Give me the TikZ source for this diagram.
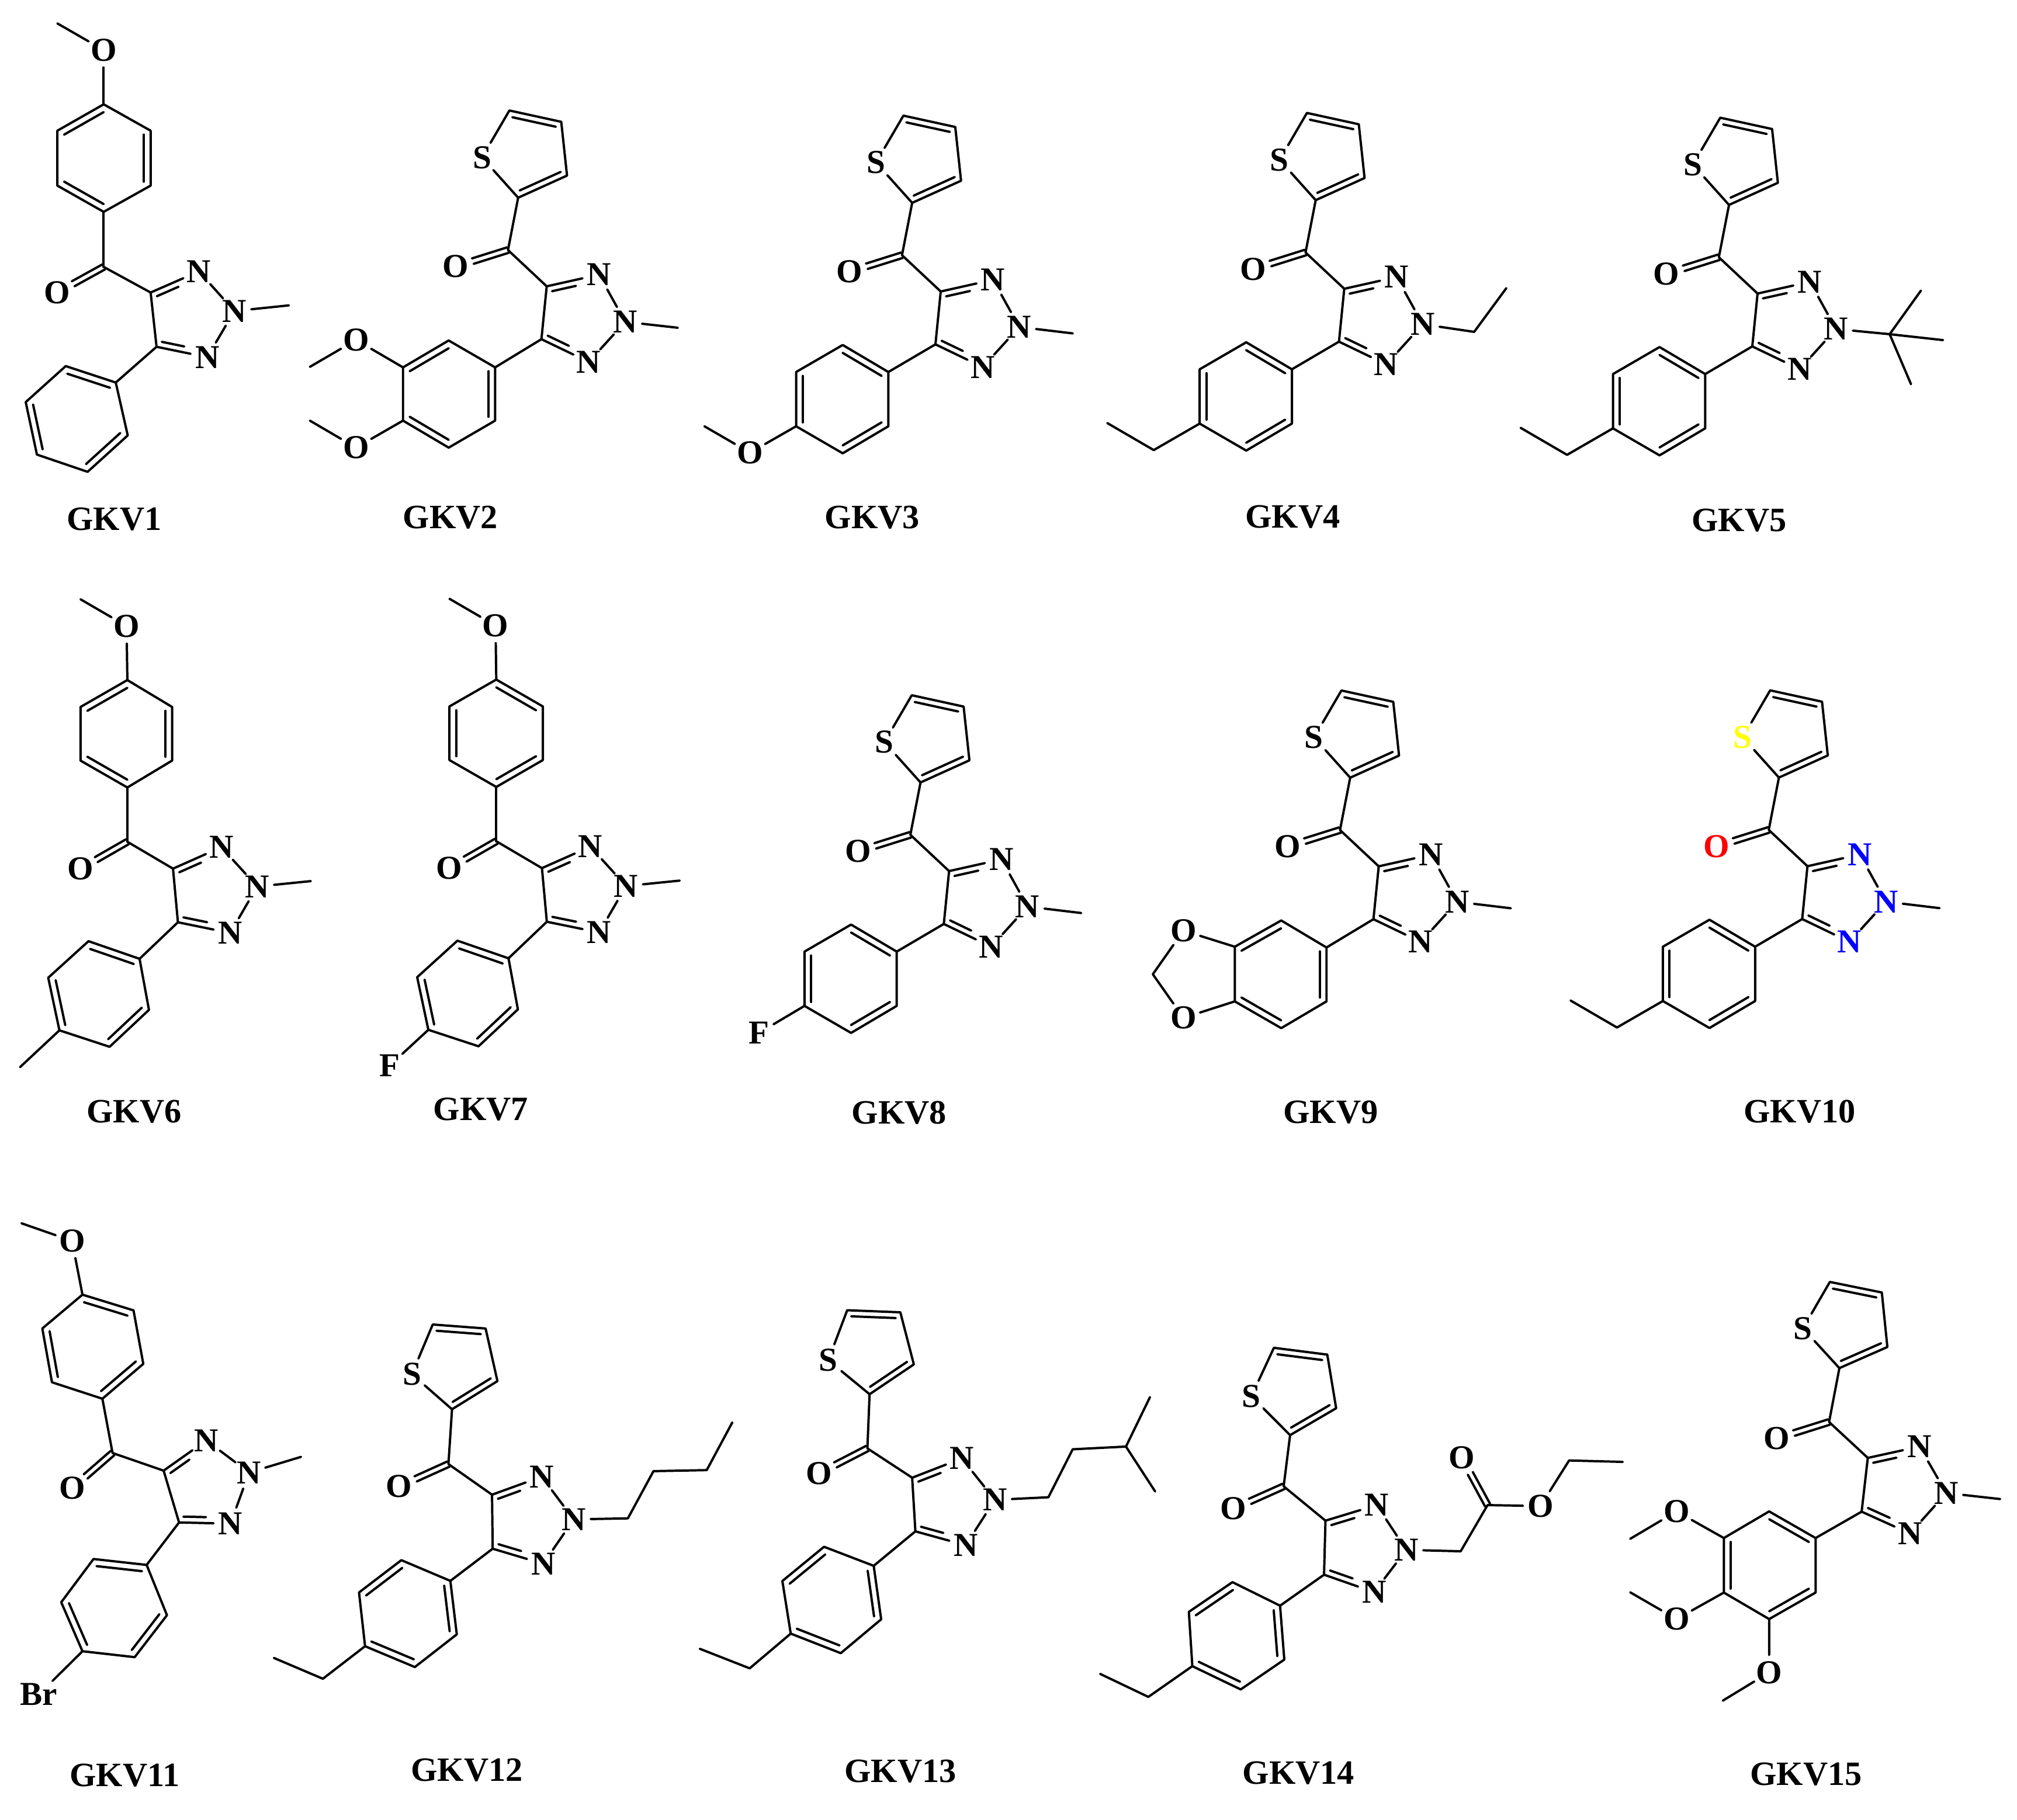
\documentclass[tikz,border=0pt]{standalone}
\usepackage{fontspec}
\setmainfont{Liberation Serif}
\usetikzlibrary{calc}
\tikzset{
  bond/.style={draw=black,line width=1.8pt,line cap=round,line join=round},
  atom/.style={circle,inner sep=0pt,minimum size=26pt,font=\fontsize{26}{28}\selectfont\bfseries,text=black},
  natom/.style={atom}, oatom/.style={atom}, satom/.style={atom},
  xatom/.style={atom,inner sep=-1.5pt},
  lab/.style={inner sep=0pt,font=\fontsize{26.5}{28}\selectfont\bfseries,text=black}
}
% inner line of a double bond, moved towards the ring centre
\newcommand\Inb[4]{\draw[bond] ($(#1)!#4!(#3)$) -- ($(#2)!#4!(#3)$);}
% inner line ending short of a labelled atom #2
\newcommand\InN[3]{\draw[bond] ($(#1)!.16!(#3)$) -- ($($(#2)!.16!(#3)$)!16pt!($(#1)!.16!(#3)$)$);}
% two parallel lines from carbon #1 to oxygen #2
\newcommand\DblO[2]{%
  \draw[bond] ($(#1)!2.2pt!90:(#2)$) -- ($(#2)!14pt!(#1)!2.2pt!-90:(#1)$);
  \draw[bond] ($(#1)!2.2pt!-90:(#2)$) -- ($(#2)!14pt!(#1)!2.2pt!90:(#1)$);}
\newcommand\Thio[6]{%
  \node[satom] (#1-S) at #2 {S};
  \coordinate (#1-t1) at #3; \coordinate (#1-t2) at #4;
  \coordinate (#1-t3) at #5; \coordinate (#1-t4) at #6;
  \coordinate (#1-tc) at ($.2*(#1-S)+.2*(#1-t1)+.2*(#1-t2)+.2*(#1-t3)+.2*(#1-t4)$);
  \draw[bond] (#1-S)--(#1-t1)--(#1-t2)--(#1-t3)--(#1-t4)--(#1-S);
  \Inb{#1-t1}{#1-t2}{#1-tc}{.16}
  \Inb{#1-t3}{#1-t4}{#1-tc}{.16}}
\newcommand\CO[3]{%
  \coordinate (#1-C) at #2; \node[oatom] (#1-O) at #3 {O};
  \DblO{#1-C}{#1-O}}
\newcommand\Triaz[6]{%
  \coordinate (#1-C4) at #2; \node[natom] (#1-N3) at #3 {N};
  \node[natom] (#1-N2) at #4 {N}; \node[natom] (#1-N1) at #5 {N};
  \coordinate (#1-C5) at #6;
  \coordinate (#1-zc) at ($.2*(#1-C4)+.2*(#1-N3)+.2*(#1-N2)+.2*(#1-N1)+.2*(#1-C5)$);
  \draw[bond] (#1-C5)--(#1-C4)--(#1-N3)--(#1-N2)--(#1-N1)--(#1-C5);
  \InN{#1-C4}{#1-N3}{#1-zc}
  \InN{#1-C5}{#1-N1}{#1-zc}
  \draw[bond] (#1-C)--(#1-C4);}
% ring: double bonds r1r2, r3r4, r5r6
\newcommand\Ring[7]{%
  \coordinate (#1-r1) at #2; \coordinate (#1-r2) at #3; \coordinate (#1-r3) at #4;
  \coordinate (#1-r4) at #5; \coordinate (#1-r5) at #6; \coordinate (#1-r6) at #7;
  \coordinate (#1-rc) at ($(#1-r1)!.5!(#1-r4)$);
  \draw[bond] (#1-r1)--(#1-r2)--(#1-r3)--(#1-r4)--(#1-r5)--(#1-r6)--cycle;
  \Inb{#1-r1}{#1-r2}{#1-rc}{.145}
  \Inb{#1-r3}{#1-r4}{#1-rc}{.145}
  \Inb{#1-r5}{#1-r6}{#1-rc}{.145}}
% thienyl ketone and triazole, in the position of GKV5
\newcommand\TCore[1]{%
  \Thio{#1}{(1316,128)}{(1337.3,91.5)}{(1377.6,100.3)}{(1382.1,142.1)}{(1344.1,159.3)}
  \CO{#1}{(1336.2,200)}{(1295.5,212.8)}
  \draw[bond] (#1-t4)--(#1-C);
  \Triaz{#1}{(1366.3,228.2)}{(1407,219.1)}{(1427.3,255.8)}{(1399,287)}{(1362.2,269.3)}}
% para-substituted phenyl, in the position of GKV5
\newcommand\TPh[1]{%
  \Ring{#1}{(1325.6,290.8)}{(1290.1,269.8)}{(1253.9,290.8)}{(1253.9,333)}{(1290.1,354)}{(1325.6,333)}
  \draw[bond] (#1-C5)--(#1-r1);}
\newcommand\TEt[1]{%
  \coordinate (#1-e1) at (1218.2,353.6); \coordinate (#1-e2) at (1182.1,332.6);
  \draw[bond] (#1-r4)--(#1-e1)--(#1-e2);}
\newcommand\TMe[1]{%
  \coordinate (#1-me) at (1469,260.8);
  \draw[bond] (#1-N2)--(#1-me);}
\begin{document}
\begin{tikzpicture}[x=1pt,y=-1pt]
\useasboundingbox (0,0) rectangle (1568,1414.47);

% ---------- GKV1
\coordinate (a1-me) at (44.6,18.2);
\node[oatom] (a1-OM) at (80.6,38.9) {O};
\draw[bond] (a1-me)--(a1-OM);
\Ring{a1}{(80.6,81.1)}{(44.6,101.6)}{(44.6,144.3)}{(80.6,164.7)}{(117.1,144.3)}{(117.1,101.6)}
\draw[bond] (a1-OM)--(a1-r1);
\Ring{a1b}{(90,297.4)}{(51.1,284.6)}{(20,312.6)}{(28.7,353.4)}{(68.1,366.8)}{(99.3,338.5)}
\CO{a1}{(80.6,207.5)}{(44.6,227.4)}
\draw[bond] (a1-r4)--(a1-C);
\Triaz{a1}{(117.1,227.4)}{(154.6,211)}{(182.2,241.8)}{(161.1,277.7)}{(121.7,269.6)}
\draw[bond] (a1-C5)--(a1b-r1);
\coordinate (a1-m2) at (224.6,237.4);
\draw[bond] (a1-N2)--(a1-m2);
\node[lab] (L1) at (88.7,403.8) {GKV1};

% ---------- GKV2
\begin{scope}[shift={(-941.3,-5.6)}]
\TCore{a2}
\coordinate (a2-me) at (1468.2,260.4);
\draw[bond] (a2-N2)--(a2-me);
\end{scope}
\Ring{a2}{(384.9,285.6)}{(384.9,327)}{(348.8,348)}{(313.3,327)}{(313.3,285.6)}{(348.8,264.7)}
\draw[bond] (a2-C5)--(a2-r1);
\node[oatom] (a2-O1) at (276.8,264.3) {O};
\node[oatom] (a2-O2) at (276.8,348) {O};
\coordinate (a2-m1) at (240.9,285.2);
\coordinate (a2-m2) at (240.9,327);
\draw[bond] (a2-r5)--(a2-O1)--(a2-m1);
\draw[bond] (a2-r4)--(a2-O2)--(a2-m2);
\node[lab] (L2) at (350.2,402.3) {GKV2};

% ---------- GKV3
\begin{scope}[shift={(-635,-1.6)}]
\TCore{a3}\TPh{a3}\TMe{a3}
\end{scope}
\node[oatom] (a3-OM) at (583,351.9) {O};
\coordinate (a3-m) at (547.6,331.4);
\draw[bond] (a3-r4)--(a3-OM)--(a3-m);
\node[lab] (L3) at (678,402.3) {GKV3};

% ---------- GKV4
\begin{scope}[shift={(-321.3,-3.7)}]
\TCore{a4}\TPh{a4}\TEt{a4}
\end{scope}
\coordinate (a4-c1) at (1146,258); \coordinate (a4-c2) at (1171,224);
\draw[bond] (a4-N2)--(a4-c1)--(a4-c2);
\node[lab] (L4) at (1005,402) {GKV4};

% ---------- GKV5
\TCore{a5}\TPh{a5}\TEt{a5}
\coordinate (a5-q) at (1469,259.8); \coordinate (a5-q1) at (1493.3,225.9);
\coordinate (a5-q2) at (1510.5,264.4); \coordinate (a5-q3) at (1485.6,298.7);
\draw[bond] (a5-N2)--(a5-q); \draw[bond] (a5-q)--(a5-q1); \draw[bond] (a5-q)--(a5-q2); \draw[bond] (a5-q)--(a5-q3);
\node[lab] (L5) at (1352,404.5) {GKV5};

% ---------- GKV6
\coordinate (a6-me) at (62.6,465.9);
\node[oatom] (a6-OM) at (98.4,486.7) {O};
\draw[bond] (a6-me)--(a6-OM);
\Ring{a6}{(99,528.7)}{(62.6,549.6)}{(62.6,591.3)}{(99,612.2)}{(133.8,591.3)}{(133.8,549.6)}
\draw[bond] (a6-OM)--(a6-r1);
\Ring{a6b}{(108.5,745.4)}{(68.8,731.7)}{(37.5,760.1)}{(46.2,801)}{(85.2,813.8)}{(115.8,785.1)}
\CO{a6}{(99,654.4)}{(62.6,675.3)}
\draw[bond] (a6-r4)--(a6-C);
\Triaz{a6}{(134.5,675.3)}{(172.1,658.6)}{(199.9,689.2)}{(179,725.3)}{(138.3,717)}
\draw[bond] (a6-C5)--(a6b-r1);
\coordinate (a6-m2) at (241.6,685);
\draw[bond] (a6-N2)--(a6-m2);
\coordinate (a6-m3) at (15.6,829.6);
\draw[bond] (a6b-r4)--(a6-m3);
\node[lab] (L6) at (104.3,864.4) {GKV6};

% ---------- GKV7
\coordinate (a7-me) at (349.4,465.5);
\node[oatom] (a7-OM) at (385.2,486.3) {O};
\draw[bond] (a7-me)--(a7-OM);
\Ring{a7}{(385.8,528.3)}{(422,549.2)}{(422,590.9)}{(385.8,611.8)}{(349.4,590.9)}{(349.4,549.2)}
\draw[bond] (a7-OM)--(a7-r1);
\Ring{a7b}{(395.3,745)}{(355.6,731.3)}{(324.3,759.7)}{(333,800.6)}{(372,813.4)}{(402.6,784.7)}
\CO{a7}{(385.8,654)}{(349.4,674.9)}
\draw[bond] (a7-r4)--(a7-C);
\Triaz{a7}{(421.3,674.9)}{(458.9,658.2)}{(486.7,688.8)}{(465.8,724.9)}{(425.1,716.6)}
\draw[bond] (a7-C5)--(a7b-r1);
\coordinate (a7-m2) at (528.4,684.6);
\draw[bond] (a7-N2)--(a7-m2);
\node[atom] (a7-F) at (303.1,828.2) {F};
\draw[bond] (a7b-r4)--(a7-F);
\node[lab] (L7) at (373.7,862.5) {GKV7};

% ---------- GKV8
\begin{scope}[shift={(-628.5,449)}]
\TCore{a8}\TPh{a8}\TMe{a8}
\end{scope}
\node[atom] (a8-F) at (590,803) {F};
\draw[bond] (a8-r4)--(a8-F);
\node[lab] (L8) at (699,865) {GKV8};

% ---------- GKV9
\begin{scope}[shift={(-294.5,445.3)}]
\TCore{a9}\TMe{a9}
\end{scope}
\Ring{a9}{(1031.2,736.6)}{(1031.2,778.5)}{(996,799.3)}{(959.9,778.5)}{(959.9,736)}{(996,715.6)}
\draw[bond] (a9-C5)--(a9-r1);
\node[oatom] (a9-O1) at (920,723.5) {O};
\node[oatom] (a9-O2) at (920,791.3) {O};
\coordinate (a9-ch) at (896.2,757.4);
\draw[bond] (a9-r5)--(a9-O1)--(a9-ch)--(a9-O2)--(a9-r4);
\node[lab] (L9) at (1034.5,864.8) {GKV9};

% ---------- GKV10
\begin{scope}[shift={(38.8,445.2)},
  satom/.style={atom,text={rgb,255:red,255;green,255;blue,0}},
  oatom/.style={atom,text={rgb,255:red,255;green,0;blue,0}},
  natom/.style={atom,text={rgb,255:red,0;green,0;blue,255}}]
\TCore{a10}\TPh{a10}\TEt{a10}\TMe{a10}
\end{scope}
\node[lab] (L10) at (1399,864) {GKV10};

% ---------- GKV11
\coordinate (b1-me) at (16.7,951);
\node[oatom] (b1-OM) at (56,964.7) {O};
\draw[bond] (b1-me)--(b1-OM);
\Ring{b1}{(64.1,1006.5)}{(103.8,1018.7)}{(111.4,1060.3)}{(79.6,1087.4)}{(40.4,1074.6)}{(32.9,1032.8)}
\draw[bond] (b1-OM)--(b1-r1);
\Ring{b1b}{(114,1216.6)}{(72.7,1212)}{(47.6,1245.6)}{(64.1,1283.7)}{(104.7,1288.3)}{(129.8,1255.7)}
\CO{b1}{(87.5,1129.6)}{(56,1157)}
\draw[bond] (b1-r4)--(b1-C);
\Triaz{b1}{(127.2,1143.3)}{(160.4,1119.8)}{(193.6,1144.8)}{(179.2,1184.5)}{(139.2,1183.6)}
\draw[bond] (b1-C5)--(b1b-r1);
\coordinate (b1-m2) at (234,1132.6);
\draw[bond] (b1-N2)--(b1-m2);
\node[xatom] (b1-Br) at (30.2,1317.3) {Br};
\draw[bond] (b1b-r4)--(b1-Br);
\node[lab] (L11) at (97,1380) {GKV11};

% ---------- GKV12
\Thio{b2}{(320.2,1068.3)}{(336.4,1029.7)}{(377.5,1032.8)}{(386.7,1073.7)}{(351.4,1095.6)}
\CO{b2}{(348.6,1138.2)}{(310.3,1155.5)}
\draw[bond] (b2-t4)--(b2-C);
\Triaz{b2}{(382.5,1162)}{(421.1,1148)}{(446,1181.2)}{(422.3,1215.7)}{(383,1204)}
\Ring{b2}{(350.1,1229)}{(355.1,1270.6)}{(322.5,1296)}{(283.8,1279.8)}{(279.1,1238)}{(312,1212.9)}
\draw[bond] (b2-C5)--(b2-r1);
\coordinate (b2-e1) at (251,1305.1); \coordinate (b2-e2) at (212.9,1288.9);
\draw[bond] (b2-r4)--(b2-e1)--(b2-e2);
\coordinate (b2-c1) at (488.1,1180.4); \coordinate (b2-c2) at (508,1143.7);
\coordinate (b2-c3) at (549.4,1142.9); \coordinate (b2-c4) at (569.3,1105.8);
\draw[bond] (b2-N2)--(b2-c1)--(b2-c2)--(b2-c3)--(b2-c4);
\node[lab] (L12) at (363,1376) {GKV12};

% ---------- GKV13
\Thio{b3}{(643.9,1057.5)}{(658.6,1018.6)}{(699.9,1020.2)}{(710.4,1060.7)}{(676,1083.9)}
\CO{b3}{(674.3,1126)}{(636.9,1145.3)}
\draw[bond] (b3-t4)--(b3-C);
\Triaz{b3}{(709.1,1148.8)}{(747.7,1133.8)}{(773.4,1166)}{(750.7,1201.3)}{(711.6,1190.5)}
\Ring{b3}{(679.2,1217.3)}{(685,1258.9)}{(653.6,1285.2)}{(614.7,1270)}{(608.2,1229.1)}{(640.6,1202.5)}
\draw[bond] (b3-C5)--(b3-r1);
\coordinate (b3-e1) at (582.8,1297); \coordinate (b3-e2) at (544,1281.8);
\draw[bond] (b3-r4)--(b3-e1)--(b3-e2);
\coordinate (b3-c1) at (815,1164); \coordinate (b3-c2) at (833.9,1126.7);
\coordinate (b3-c3) at (875.3,1124.6); \coordinate (b3-c4) at (894,1086.1); \coordinate (b3-c5) at (898,1159.5);
\draw[bond] (b3-N2)--(b3-c1)--(b3-c2)--(b3-c3)--(b3-c4);
\draw[bond] (b3-c3)--(b3-c5);
\node[lab] (L13) at (700,1377) {GKV13};

% ---------- GKV14
\Thio{b4}{(972.8,1085.5)}{(990.3,1047.8)}{(1031.8,1053.1)}{(1038.7,1094.8)}{(1002.9,1115.7)}
\CO{b4}{(997.9,1155.5)}{(958.9,1172.9)}
\draw[bond] (b4-t4)--(b4-C);
\Triaz{b4}{(1030.4,1182.2)}{(1070.2,1170.1)}{(1093.2,1204.9)}{(1068.2,1237.8)}{(1029.3,1224.2)}
\Ring{b4}{(995.1,1248.3)}{(998.4,1290.2)}{(964.5,1313.4)}{(926.9,1295.3)}{(924.2,1253.1)}{(958.1,1230)}
\draw[bond] (b4-C5)--(b4-r1);
\coordinate (b4-e1) at (892.7,1319.2); \coordinate (b4-e2) at (855.2,1301.3);
\draw[bond] (b4-r4)--(b4-e1)--(b4-e2);
\coordinate (b4-c1) at (1135.5,1206); \coordinate (b4-c2) at (1156.4,1170.1);
\node[oatom] (b4-O1) at (1136.3,1133.1) {O};
\node[oatom] (b4-O2) at (1197.5,1170.8) {O};
\coordinate (b4-c3) at (1219.8,1135.4); \coordinate (b4-c4) at (1261.5,1136.5);
\draw[bond] (b4-N2)--(b4-c1)--(b4-c2)--(b4-O2)--(b4-c3)--(b4-c4);
\DblO{b4-c2}{b4-O1}
\node[lab] (L14) at (1009.5,1378.3) {GKV14};

% ---------- GKV15
\Thio{b5}{(1401.6,1032.7)}{(1422.5,996.6)}{(1462.9,1004.8)}{(1467.2,1047.2)}{(1429.9,1063.6)}
\CO{b5}{(1421.9,1105.5)}{(1381.2,1118.3)}
\draw[bond] (b5-t4)--(b5-C);
\Triaz{b5}{(1452,1133.4)}{(1492.2,1124.6)}{(1513,1160.7)}{(1484.8,1192.2)}{(1447.2,1175.2)}
\Ring{b5}{(1411.4,1195.7)}{(1375.3,1175)}{(1340.1,1195.7)}{(1340.1,1238.1)}{(1375.3,1258.7)}{(1411.4,1238.1)}
\draw[bond] (b5-C5)--(b5-r1);
\coordinate (b5-m) at (1554.9,1165.4);
\draw[bond] (b5-N2)--(b5-m);
\node[oatom] (b5-O1) at (1303.3,1175) {O}; \coordinate (b5-m1) at (1267.3,1196.3);
\node[oatom] (b5-O2) at (1303.3,1258.7) {O}; \coordinate (b5-m2) at (1267.3,1237.9);
\node[oatom] (b5-O3) at (1375.3,1300.2) {O}; \coordinate (b5-m3) at (1339.3,1322.1);
\draw[bond] (b5-r3)--(b5-O1)--(b5-m1);
\draw[bond] (b5-r4)--(b5-O2)--(b5-m2);
\draw[bond] (b5-r5)--(b5-O3)--(b5-m3);
\node[lab] (L15) at (1404,1379.5) {GKV15};
\end{tikzpicture}
\end{document}
